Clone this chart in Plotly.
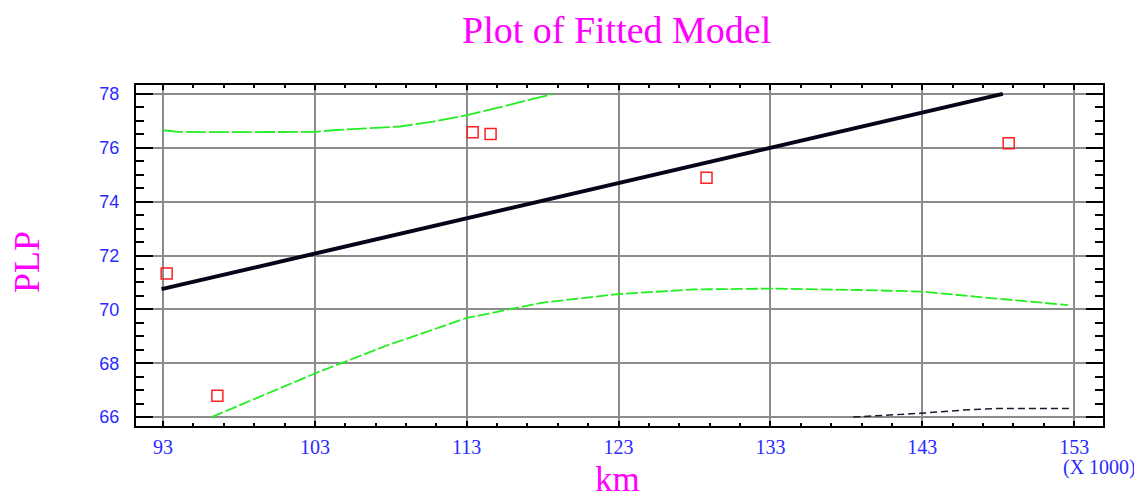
import plotly.graph_objects as go

# Observed points
obs_km = [93.24, 96.58, 113.39, 114.57, 128.79, 148.69]
obs_plp = [71.33, 66.79, 76.58, 76.51, 74.89, 76.17]

# Fitted line (read endpoints)
fit_km = [92.9, 148.3]
fit_plp = [70.75, 78.0]

# Upper green limit
up_km = [93.0, 94.0, 97.0, 100.0, 103.0, 104.4, 106.4, 108.6, 110.8, 113.1, 115.8, 118.7]
up_plp = [76.65, 76.59, 76.58, 76.58, 76.59, 76.66, 76.72, 76.79, 76.97, 77.22, 77.59, 78.0]

# Lower green limit
lo_km = [96.2, 100.0, 103.0, 107.7, 113.0, 118.0, 123.0, 128.0, 133.0, 138.9, 143.0, 147.7, 152.6]
lo_plp = [66.0, 66.9, 67.62, 68.65, 69.68, 70.25, 70.57, 70.74, 70.77, 70.72, 70.66, 70.41, 70.16]

# Dark dashed curve (bottom right)
dk_km = [138.45, 140.64, 142.84, 145.7, 147.9, 152.9]
dk_plp = [66.0, 66.07, 66.14, 66.26, 66.32, 66.32]

x_ticks = [93, 103, 113, 123, 133, 143, 153]
y_ticks = [66, 68, 70, 72, 74, 76, 78]

fig = go.Figure()
fig.add_trace(go.Scatter(x=up_km, y=up_plp, mode="lines",
                         line=dict(color="#22ee22", width=1.8, dash="20px,3px"), hoverinfo="skip"))
fig.add_trace(go.Scatter(x=lo_km, y=lo_plp, mode="lines",
                         line=dict(color="#22ee22", width=1.8, dash="12px,3px"), hoverinfo="skip"))
fig.add_trace(go.Scatter(x=dk_km, y=dk_plp, mode="lines",
                         line=dict(color="#1a1a2e", width=1.5, dash="7px,4px"), hoverinfo="skip"))
fig.add_trace(go.Scatter(x=fit_km, y=fit_plp, mode="lines",
                         line=dict(color="#05051a", width=4)))
fig.add_trace(go.Scatter(x=obs_km, y=obs_plp, mode="markers",
                         marker=dict(symbol="square-open", size=11, color="#ff2020",
                                     line=dict(width=1.5, color="#ff2020"))))

axis_common = dict(showline=True, linecolor="black", linewidth=2, mirror="ticks",
                   showgrid=True, gridcolor="#8c8c8c", gridwidth=1.5, zeroline=False,
                   ticks="inside", tickcolor="black", tickwidth=2)

fig.update_xaxes(range=[91.22, 154.9], tickvals=x_ticks, ticklen=5,
                 tickfont=dict(family="Liberation Serif", size=20, color="#2a2aff"),
                 ticklabelstandoff=2,
                 minor=dict(dtick=2, tick0=93, ticks="inside", ticklen=3, tickcolor="black",
                            tickwidth=1.5, showgrid=False),
                 **axis_common)
fig.update_yaxes(range=[65.67, 78.33], tickvals=y_ticks, ticklen=17,
                 tickfont=dict(family="Liberation Sans", size=18, color="#2a2aff"),
                 ticklabelstandoff=11,
                 minor=dict(dtick=0.5, tick0=66, ticks="inside", ticklen=8, tickcolor="black",
                            tickwidth=1.5, showgrid=False),
                 **axis_common)

fig.update_layout(
    width=1134, height=492,
    margin=dict(l=128, r=39, t=77, b=74),
    paper_bgcolor="white", plot_bgcolor="white",
    showlegend=False,
    annotations=[
        dict(text="Plot of Fitted Model", xref="paper", yref="paper", x=0.497, y=1.162,
             showarrow=False, xanchor="center", yanchor="middle",
             font=dict(family="Liberation Serif", size=38, color="#ff00ff")),
        dict(text="PLP", xref="paper", yref="paper", x=-0.1127, y=0.481, textangle=-90,
             showarrow=False, xanchor="center", yanchor="middle",
             font=dict(family="Liberation Serif", size=36, color="#ff00ff")),
        dict(text="km", xref="paper", yref="paper", x=0.4975, y=-0.158,
             showarrow=False, xanchor="center", yanchor="middle",
             font=dict(family="Liberation Serif", size=35, color="#ff00ff")),
        dict(text="(X 1000)", xref="paper", yref="paper", x=0.996, y=-0.123,
             showarrow=False, xanchor="center", yanchor="middle",
             font=dict(family="Liberation Serif", size=20, color="#2a2aff")),
    ],
)

fig.write_html("out.html")
